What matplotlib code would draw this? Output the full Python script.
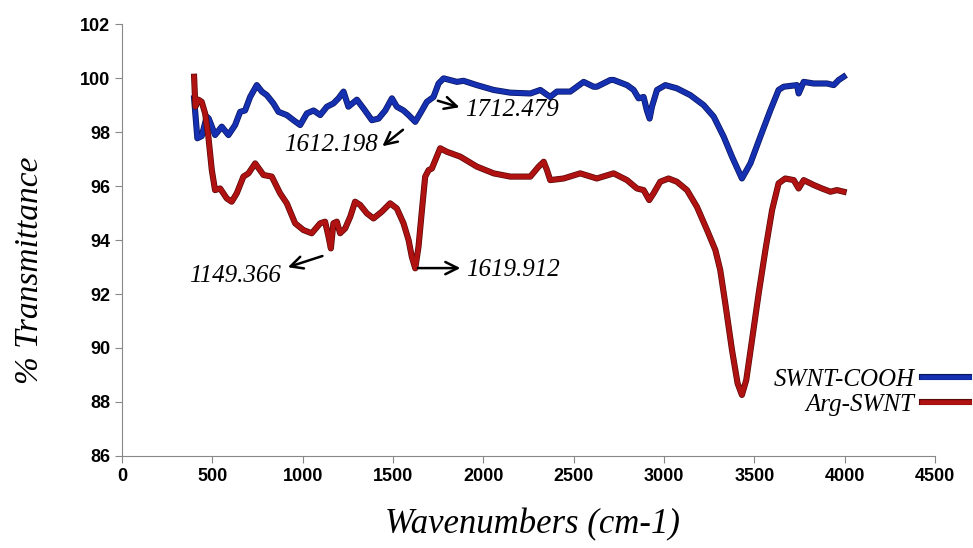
import matplotlib
matplotlib.use('Agg')
import matplotlib.pyplot as plt
import matplotlib.patheffects as pe

# SWNT-COOH trace (wavenumber, %T)
cooh_wn = [399, 417, 441, 469, 480, 515, 552, 589, 626, 654, 681, 709, 746, 774, 801,
           838, 866, 912, 949, 986, 1023, 1060, 1097, 1134, 1170, 1198, 1226, 1253,
           1300, 1336, 1383, 1420, 1457, 1494, 1521, 1558, 1586, 1623, 1660, 1687,
           1724, 1752, 1780, 1854, 1890, 1964, 2057, 2149, 2260, 2315, 2370, 2407,
           2444, 2481, 2555, 2610, 2628, 2703, 2721, 2795, 2832, 2859, 2887, 2905,
           2920, 2933, 2961, 3007, 3071, 3145, 3219, 3275, 3330, 3376, 3431, 3478,
           3533, 3588, 3634, 3662, 3736, 3745, 3773, 3828, 3902, 3939, 3967, 3994]
cooh_t = [99.25, 97.77, 97.85, 98.57, 98.5, 97.89, 98.2, 97.89, 98.26, 98.75, 98.8,
          99.3, 99.74, 99.5, 99.37, 99.06, 98.75, 98.63, 98.44, 98.26, 98.69, 98.8,
          98.63, 98.94, 99.06, 99.25, 99.5, 98.94, 99.2, 98.88, 98.44, 98.5, 98.8,
          99.25, 98.94, 98.8, 98.63, 98.38, 98.8, 99.12, 99.3, 99.8, 99.99, 99.86,
          99.9, 99.74, 99.56, 99.46, 99.43, 99.56, 99.3, 99.5, 99.5, 99.5, 99.86,
          99.68, 99.68, 99.93, 99.93, 99.74, 99.56, 99.25, 99.3, 98.8, 98.5, 98.94,
          99.56, 99.74, 99.62, 99.37, 99.0, 98.57, 97.83, 97.09, 96.28, 96.84, 97.83,
          98.8, 99.56, 99.68, 99.74, 99.43, 99.86, 99.8, 99.8, 99.74, 99.93, 100.05]

# Arg-SWNT trace (wavenumber, %T)
arg_wn = [399, 406, 423, 441, 460, 478, 497, 515, 543, 580, 607, 635, 672, 700, 737,
          783, 829, 875, 912, 958, 1004, 1050, 1097, 1124, 1143, 1156, 1170, 1189,
          1207, 1235, 1263, 1290, 1318, 1355, 1392, 1438, 1484, 1521, 1558, 1586,
          1604, 1623, 1641, 1660, 1678, 1697, 1715, 1734, 1761, 1798, 1872, 1964,
          2057, 2149, 2260, 2306, 2334, 2352, 2370, 2444, 2536, 2628, 2721, 2795,
          2850, 2887, 2918, 2942, 2979, 3025, 3071, 3127, 3182, 3238, 3284, 3311,
          3339, 3376, 3407, 3431, 3455, 3487, 3524, 3561, 3598, 3634, 3671, 3718,
          3745, 3773, 3828, 3874, 3921, 3957, 3994]
arg_t = [100.05, 98.94, 99.2, 99.12, 98.69, 97.83, 96.59, 95.85, 95.91, 95.54, 95.42,
         95.73, 96.35, 96.47, 96.84, 96.41, 96.35, 95.73, 95.36, 94.62, 94.37, 94.25,
         94.62, 94.68, 94.12, 93.69, 94.62, 94.68, 94.25, 94.43, 94.86, 95.42, 95.3,
         94.99, 94.8, 95.05, 95.36, 95.17, 94.62, 94.0, 93.38, 92.95, 93.75, 95.11,
         96.35, 96.59, 96.65, 96.96, 97.4, 97.27, 97.09, 96.72, 96.47, 96.35, 96.35,
         96.72, 96.9, 96.59, 96.22, 96.28, 96.47, 96.28, 96.47, 96.22, 95.91, 95.85,
         95.48, 95.73, 96.16, 96.28, 96.16, 95.85, 95.23, 94.37, 93.63, 92.89, 91.65,
         89.93, 88.69, 88.26, 88.81, 90.3, 92.03, 93.63, 95.11, 96.1, 96.28, 96.22,
         95.91, 96.22, 96.04, 95.91, 95.79, 95.85, 95.79]

# peak labels: text, (tail), (head)
peak_labels = ['1712.479', '1612.198', '1149.366', '1619.912']
peak_tail = [(1733, 99.19), (1567, 98.15), (1124, 93.44), (1622, 92.96)]
peak_head = [(1883, 98.89), (1429, 97.41), (903, 92.96), (1888, 92.96)]
peak_text = [(1899, 98.81), (1415, 97.52), (880, 92.67), (1905, 92.89)]
peak_ha = ['left', 'right', 'right', 'left']

x_ticks = [0, 500, 1000, 1500, 2000, 2500, 3000, 3500, 4000, 4500]
y_ticks = [86, 88, 90, 92, 94, 96, 98, 100, 102]

blue = '#1530b0'
red = '#b01212'
serif = 'Liberation Serif'

fig = plt.figure(figsize=(9.73, 5.48), dpi=100)
ax = fig.add_axes([0.1254, 0.168, 0.8356, 0.788])

l1, = ax.plot(cooh_wn, cooh_t, color=blue, lw=3.4, solid_joinstyle='round',
              path_effects=[pe.Stroke(linewidth=4.4, foreground='#0a1660'), pe.Normal()],
              label='SWNT-COOH')
l2, = ax.plot(arg_wn, arg_t, color=red, lw=3.4, solid_joinstyle='round',
              path_effects=[pe.Stroke(linewidth=4.4, foreground='#5a0808'), pe.Normal()],
              label='Arg-SWNT')

for lab, tail, head, tpos, ha in zip(peak_labels, peak_tail, peak_head, peak_text, peak_ha):
    ax.annotate('', xy=head, xytext=tail,
                arrowprops=dict(arrowstyle='->', color='black', lw=1.8, mutation_scale=22))
    ax.text(tpos[0], tpos[1], lab, ha=ha, va='center', fontsize=18,
            family=serif, style='italic')

ax.set_xlim(0, 4500)
ax.set_ylim(86, 102)
ax.set_xticks(x_ticks)
ax.set_yticks(y_ticks)
for s in ['top', 'right']:
    ax.spines[s].set_visible(False)
for s in ['left', 'bottom']:
    ax.spines[s].set_color('#888888')
ax.tick_params(colors='#888888', length=5, direction='out')
for t in ax.get_xticklabels() + ax.get_yticklabels():
    t.set_color('black')
    t.set_fontweight('bold')
    t.set_family('Liberation Sans')
    t.set_fontsize(13)

ax.set_ylabel('% Transmittance', fontsize=24, family=serif, style='italic')
ax.yaxis.set_label_coords(-0.095, 0.43)
ax.set_xlabel('Wavenumbers (cm-1)', fontsize=25, family=serif, style='italic')
ax.xaxis.set_label_coords(0.505, -0.12)

leg = ax.legend(handles=[l1, l2], loc='lower right', bbox_to_anchor=(1.07, 0.04),
                markerfirst=False, frameon=False, handlelength=1.9, handletextpad=0.3,
                labelspacing=0.12, prop=dict(family=serif, style='italic', size=18))

fig.savefig('out.png', dpi=100)
